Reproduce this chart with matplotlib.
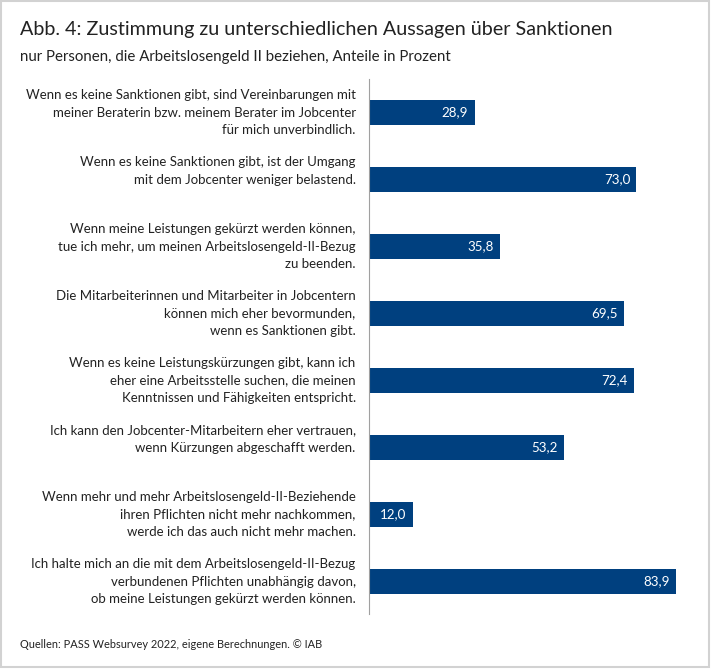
import matplotlib

matplotlib.use("Agg")

import matplotlib.pyplot as plt

plt.rcParams["font.family"] = ["Lato", "DejaVu Sans"]

TITLE = "Abb. 4: Zustimmung zu unterschiedlichen Aussagen über Sanktionen"
SUBTITLE = "nur Personen, die Arbeitslosengeld II beziehen, Anteile in Prozent"
SOURCE = "Quellen: PASS Websurvey 2022, eigene Berechnungen. © IAB"

# the two-line labels keep an empty third line, they sit higher in the original
statements = [
    "Wenn es keine Sanktionen gibt, sind Vereinbarungen mit\nmeiner Beraterin bzw. meinem Berater im Jobcenter\nfür mich unverbindlich.",
    "Wenn es keine Sanktionen gibt, ist der Umgang\nmit dem Jobcenter weniger belastend.\n ",
    "Wenn meine Leistungen gekürzt werden können,\ntue ich mehr, um meinen Arbeitslosengeld-II-Bezug\nzu beenden.",
    "Die Mitarbeiterinnen und Mitarbeiter in Jobcentern\nkönnen mich eher bevormunden,\nwenn es Sanktionen gibt.",
    "Wenn es keine Leistungskürzungen gibt, kann ich\neher eine Arbeitsstelle suchen, die meinen\nKenntnissen und Fähigkeiten entspricht.",
    "Ich kann den Jobcenter-Mitarbeitern eher vertrauen,\nwenn Kürzungen abgeschafft werden.\n ",
    "Wenn mehr und mehr Arbeitslosengeld-II-Beziehende\nihren Pflichten nicht mehr nachkommen,\nwerde ich das auch nicht mehr machen.",
    "Ich halte mich an die mit dem Arbeitslosengeld-II-Bezug\nverbundenen Pflichten unabhängig davon,\nob meine Leistungen gekürzt werden können.",
]
values = [28.9, 73.0, 35.8, 69.5, 72.4, 53.2, 12.0, 83.9]

W, H = 711, 670
fig = plt.figure(figsize=(W / 100, H / 100), dpi=100, facecolor="white")

# frame around the whole graphic
fig.add_artist(plt.Rectangle((1.5 / W, 3 / H), 707 / W, 666 / H, fill=False, ec="#d2d2d2", lw=1.5))

ax = fig.add_axes([368.5 / W, 1 - 614 / H, 340 / W, 535 / H])
y = list(range(len(values)))
ax.barh(y, values, height=0.36, color="#00407f")
ax.set_ylim(7.485, -0.5)
ax.set_xlim(0, 340 / 3.67)

for i, v in enumerate(values):
    ax.text(v - 1.7, i, f"{v:.1f}".replace(".", ","), color="white", fontsize=9.6, ha="right", va="center")
    ax.text(-3.5, i, statements[i], color="#222222", fontsize=9.55, ha="right", va="center", linespacing=1.55)

for s in ["top", "right", "bottom"]:
    ax.spines[s].set_visible(False)
ax.spines["left"].set_color("#a0a0a0")
ax.set_xticks([])
ax.set_yticks([])
ax.patch.set_alpha(0)

fig.text(20 / W, 1 - 29 / H, TITLE, fontsize=14.25, color="#222222", va="center")
fig.text(20 / W, 1 - 57 / H, SUBTITLE, fontsize=10.82, color="#222222", va="center")
fig.text(20 / W, 1 - 645 / H, SOURCE, fontsize=7.93, color="#222222", va="center")

fig.savefig("out.png", dpi=100)
